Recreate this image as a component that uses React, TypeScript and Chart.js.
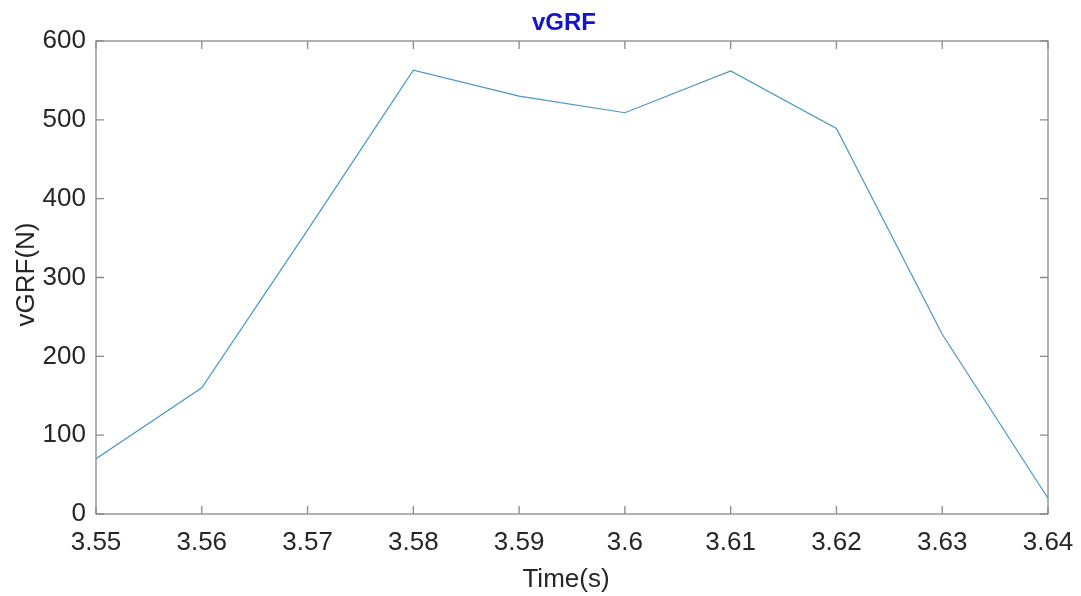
import React, { useEffect, useRef } from "react";
import { Chart, registerables } from "chart.js";

Chart.register(...registerables);

const timeValues = [3.55, 3.56, 3.57, 3.58, 3.59, 3.6, 3.61, 3.62, 3.63, 3.64];
const vgrfValues = [70, 160, 360, 563, 530, 509, 562, 489, 228, 20];
const xTickValues = [3.55, 3.56, 3.57, 3.58, 3.59, 3.6, 3.61, 3.62, 3.63, 3.64];
const yTickValues = [0, 100, 200, 300, 400, 500, 600];
const titleText = "vGRF";
const xTitle = "Time(s)";
const yTitle = "vGRF(N)";

const FONT = "'Liberation Sans', Arial, Helvetica, sans-serif";

const framePlugin = {
  id: "matlabFrame",
  afterDraw(chart: any) {
    const { ctx, chartArea, scales } = chart;
    const { left, right, top, bottom } = chartArea;
    const xs = scales.x;
    const ys = scales.y;
    ctx.save();
    ctx.strokeStyle = "#8a8a8a";
    ctx.lineWidth = 1.3;
    ctx.strokeRect(left, top, right - left, bottom - top);
    const tl = 8;
    ctx.beginPath();
    xTickValues.forEach((v) => {
      const px = xs.getPixelForValue(v);
      ctx.moveTo(px, bottom);
      ctx.lineTo(px, bottom - tl);
      ctx.moveTo(px, top);
      ctx.lineTo(px, top + tl);
    });
    yTickValues.forEach((v) => {
      const py = ys.getPixelForValue(v);
      ctx.moveTo(left, py);
      ctx.lineTo(left + tl, py);
      ctx.moveTo(right, py);
      ctx.lineTo(right - tl, py);
    });
    ctx.stroke();

    // title
    ctx.fillStyle = "#1414c8";
    ctx.font = `bold 24px ${FONT}`;
    ctx.textAlign = "center";
    ctx.textBaseline = "alphabetic";
    ctx.fillText(titleText, (left + right) / 2 - 8, 30);

    // x title
    ctx.fillStyle = "#262626";
    ctx.font = `26px ${FONT}`;
    ctx.fillText(xTitle, (left + right) / 2 - 6, 587);

    // y title
    ctx.save();
    ctx.translate(34, (top + bottom) / 2 - 3);
    ctx.rotate(-Math.PI / 2);
    ctx.fillText(yTitle, 0, 0);
    ctx.restore();
    ctx.restore();
  },
};

export default function App() {
  const ref = useRef<HTMLCanvasElement | null>(null);
  useEffect(() => {
    if (!ref.current) return;
    const chart = new Chart(ref.current, {
      type: "line",
      data: {
        datasets: [
          {
            data: timeValues.map((t, i) => ({ x: t, y: vgrfValues[i] })),
            borderColor: "#4a96c4",
            borderWidth: 1.2,
            pointRadius: 0,
            tension: 0,
            fill: false,
          },
        ],
      },
      options: {
        animation: false,
        responsive: false,
        maintainAspectRatio: false,
        layout: { padding: { left: 0, top: 41, right: 33, bottom: 0 } },
        plugins: {
          legend: { display: false },
          title: { display: false },
          tooltip: { enabled: false },
        },
        scales: {
          x: {
            type: "linear",
            min: 3.55,
            max: 3.64,
            afterBuildTicks: (scale: any) => {
              scale.ticks = xTickValues.map((v) => ({ value: v }));
            },
            afterFit: (scale: any) => {
              scale.height = 82;
              scale.paddingLeft = 0;
              scale.paddingRight = 0;
            },
            grid: { display: false, drawTicks: false },
            border: { display: false },
            ticks: {
              autoSkip: false,
              maxRotation: 0,
              padding: 13,
              color: "#262626",
              font: { family: FONT, size: 26 },
              callback: (v: any) => Number(Number(v).toFixed(2)).toString(),
            },
          },
          y: {
            type: "linear",
            min: 0,
            max: 600,
            afterBuildTicks: (scale: any) => {
              scale.ticks = yTickValues.map((v) => ({ value: v }));
            },
            afterFit: (scale: any) => {
              scale.width = 96;
              scale.paddingTop = 0;
              scale.paddingBottom = 0;
            },
            grid: { display: false, drawTicks: false },
            border: { display: false },
            ticks: {
              padding: 10,
              color: "#262626",
              font: { family: FONT, size: 26 },
            },
          },
        },
      },
      plugins: [framePlugin],
    });
    return () => chart.destroy();
  }, []);
  return (
    <div style={{ position: "absolute", left: 0, top: 0, width: 1081, height: 596, background: "#fff" }}>
      <canvas ref={ref} width={1081} height={596} style={{ display: "block" }} />
    </div>
  );
}
